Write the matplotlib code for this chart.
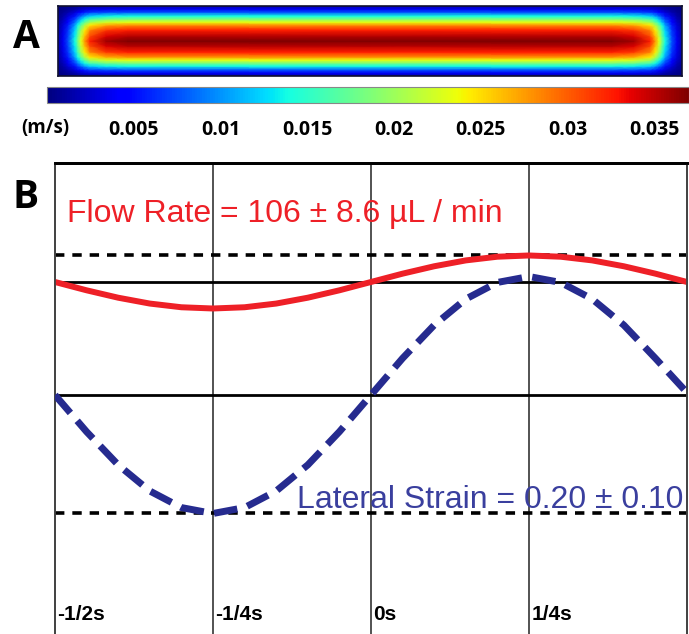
import numpy as np
import matplotlib
matplotlib.use("Agg")
from matplotlib import pyplot as plt

# ---- panel A: velocity in the channel (profiles, normalised to centre) ----
v_max = 0.037
height_pos = [0.0, 0.043, 0.086, 0.143, 0.186, 0.229, 0.271, 0.343, 0.429, 0.5]
height_val = [0.04, 0.1, 0.2, 0.375, 0.5, 0.625, 0.75, 0.875, 0.95, 1.0]
length_pos = [0.0, 0.008, 0.016, 0.027, 0.032, 0.037, 0.043, 0.051, 0.077, 0.112, 0.5]
length_val = [0.04, 0.1, 0.2, 0.375, 0.5, 0.625, 0.75, 0.875, 0.97, 1.0, 1.0]
cbar_ticks = [0.005, 0.01, 0.015, 0.02, 0.025, 0.03, 0.035]
cbar_labels = ["0.005", "0.01", "0.015", "0.02", "0.025", "0.03", "0.035"]

# ---- panel B: one cycle of flow rate and lateral strain ----
time = [-0.5, -0.45, -0.4, -0.35, -0.3, -0.25, -0.2, -0.15, -0.1, -0.05, 0.0,
        0.05, 0.1, 0.15, 0.2, 0.25, 0.3, 0.35, 0.4, 0.45, 0.5]
flow = [106.0, 103.3, 100.9, 99.0, 97.8, 97.4, 97.8, 99.0, 100.9, 103.3, 106.0,
        108.7, 111.1, 113.0, 114.2, 114.6, 114.2, 113.0, 111.1, 108.7, 106.0]
strain = [0.200, 0.169, 0.141, 0.119, 0.105, 0.100, 0.105, 0.119, 0.141, 0.169, 0.200,
          0.231, 0.259, 0.281, 0.295, 0.300, 0.295, 0.281, 0.259, 0.231, 0.202]
flow_mean, flow_sd = 106.0, 8.6
strain_mean, strain_sd = 0.20, 0.10
grid_times = [-0.25, 0.0, 0.25]
label_times = [-0.5, -0.25, 0.0, 0.25]
time_labels = ["-1/2s", "-1/4s", "0s", "1/4s"]

RED = "#ee2027"
BLUE = "#262b8f"
narrow = ["Liberation Sans Narrow", "Liberation Sans", "DejaVu Sans"]
sans = ["Open Sans", "DejaVu Sans"]

fig = plt.figure(figsize=(6.89, 6.34), dpi=100)

# ---------------- A ----------------
ax_a = fig.add_axes([0.0842, 0.8801, 0.9057, 0.1104])
y_nodes = height_pos + [1 - p for p in reversed(height_pos[:-1])]
g = height_val + list(reversed(height_val[:-1]))
x_nodes = length_pos + [1 - p for p in reversed(length_pos[:-1])]
f = length_val + list(reversed(length_val[:-1]))
field = v_max * np.outer(g, f)
mesh = ax_a.pcolormesh(x_nodes, y_nodes, field, shading="gouraud",
                       cmap="jet", vmin=0, vmax=v_max)
ax_a.set_xlim(0, 1)
ax_a.set_ylim(0, 1)
ax_a.set_xticks([])
ax_a.set_yticks([])
for s in ax_a.spines.values():
    s.set_color("#101030")
    s.set_linewidth(1.2)

cax = fig.add_axes([0.0682, 0.8375, 0.9318, 0.0252])
cb = fig.colorbar(mesh, cax=cax, orientation="horizontal")
cb.set_ticks(cbar_ticks)
cb.set_ticklabels(cbar_labels)
cb.outline.set_edgecolor("#888888")
cb.outline.set_linewidth(0.8)
cax.tick_params(length=0, pad=12)
for t in cax.get_xticklabels():
    t.set_fontfamily(sans)
    t.set_fontweight("bold")
    t.set_fontsize(14)
fig.text(45 / 689, 1 - 128 / 634, "(m/s)", ha="center", va="center",
         fontsize=13.5, fontweight="bold", family=sans)

fig.text(26 / 689, 1 - 37 / 634, "A", ha="center", va="center",
         fontsize=28, fontweight="bold", family=sans)
fig.text(26 / 689, 1 - 197 / 634, "B", ha="center", va="center",
         fontsize=28, fontweight="bold", family=sans)

# ---------------- B ----------------
ax = fig.add_axes([0.0798, 0.0, 0.9173, 0.7429])   # flow rate axis
ax2 = ax.twinx()                                   # strain axis

ax.set_xlim(-0.5, 0.5)
ax.set_ylim(-8.2, 144.6)
ax2.set_ylim(-0.0017, 0.3958)
for a in (ax, ax2):
    a.set_xticks([])
    a.set_yticks([])
    a.spines["bottom"].set_visible(False)
    a.spines["left"].set_color("#444444")
    a.spines["right"].set_color("#444444")
    a.spines["left"].set_linewidth(1.3)
    a.spines["right"].set_linewidth(1.3)
    a.spines["top"].set_color("black")
    a.spines["top"].set_linewidth(2)

for tg in grid_times:
    ax.axvline(tg, color="#444444", lw=1.3, zorder=1)

# flow rate reference lines and curve
ax.axhline(flow_mean + flow_sd, color="black", lw=2.6, ls=(0, (2.6, 2.2)), zorder=2)
ax.axhline(flow_mean, color="black", lw=2.0, zorder=2)
ax.plot(time, flow, color=RED, lw=4.3, solid_capstyle="butt", zorder=3)
ax.text(-0.481, 125.5, "Flow Rate = 106 \u00b1 8.6 \u00b5L / min", color=RED,
        fontsize=23, family=narrow, ha="left", va="baseline", zorder=4)

# strain reference lines and curve
ax2.axhline(strain_mean, color="black", lw=2.0, zorder=2)
ax2.axhline(strain_mean - strain_sd, color="black", lw=2.6, ls=(0, (2.6, 2.2)), zorder=2)
ax2.plot(time, strain, color=BLUE, lw=5, ls=(0, (3.4, 1.5)),
         dash_capstyle="butt", zorder=3)
ax2.text(0.494, 0.2 - 0.095, "Lateral Strain = 0.20 \u00b1 0.10", color="#3a3f9e",
         fontsize=23, family=narrow, ha="right", va="baseline", zorder=4)

for tl, lab in zip(label_times, time_labels):
    ax2.text(tl + 0.004, 0.03, lab, transform=ax2.get_xaxis_transform(),
             fontsize=15, fontweight="bold", family=narrow,
             ha="left", va="baseline")

plt.savefig("out.png", dpi=100)
